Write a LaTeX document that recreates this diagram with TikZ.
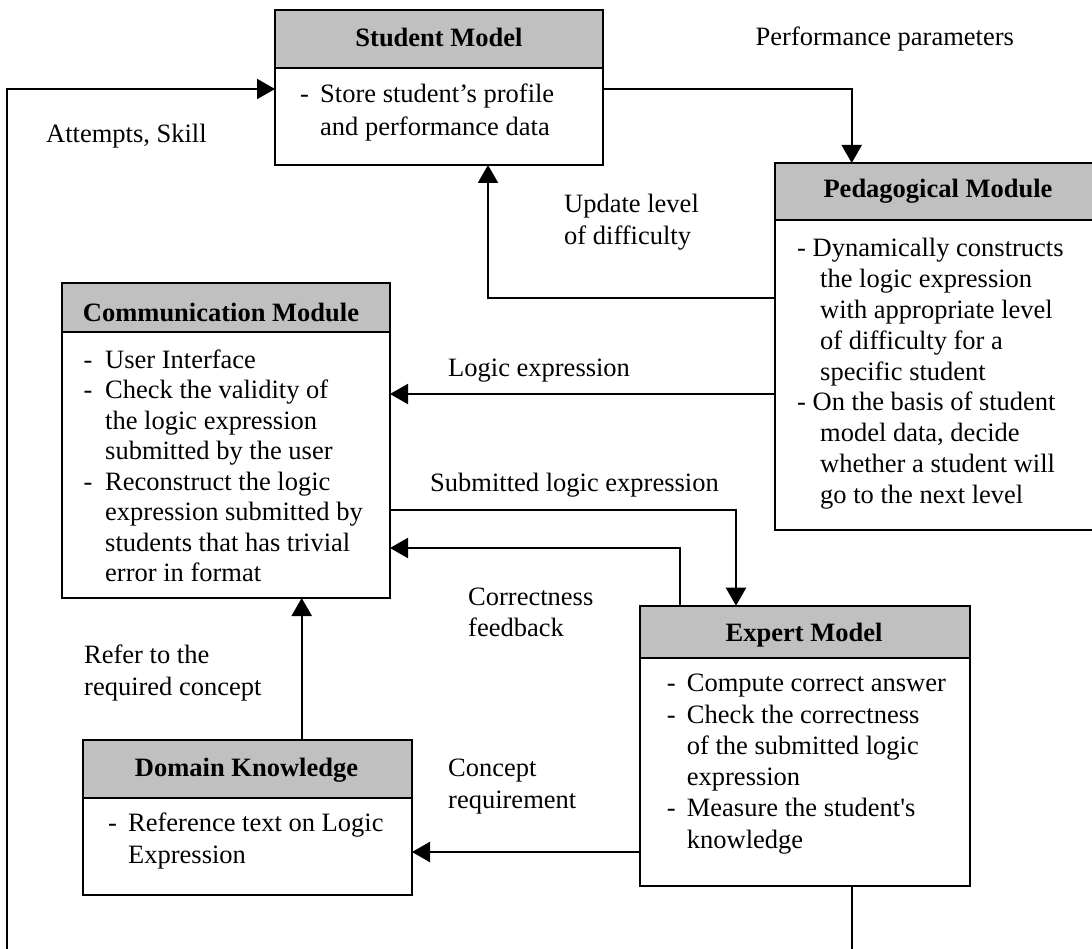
\documentclass[tikz,border=0pt]{standalone}
\usepackage{fontspec}
\setmainfont{Liberation Serif}
\usetikzlibrary{arrows.meta}
\definecolor{hdrgray}{RGB}{192,192,192}
\newcommand{\blk}[2]{\parbox[t]{330pt}{\fontsize{26.5pt}{#1}\selectfont\raggedright #2}}
\newcommand{\dsh}[1]{\makebox[#1][l]{-}}
\begin{document}
\begin{tikzpicture}[x=1pt,y=-1pt,
  box/.style={draw,line width=2.2pt,inner sep=0pt,outer sep=0pt,anchor=north west,fill=white},
  hdr/.style={draw,line width=2.2pt,inner sep=0pt,outer sep=0pt,anchor=north west,fill=hdrgray},
  ttl/.style={font=\fontsize{26.5pt}{30pt}\selectfont\bfseries,anchor=base,inner sep=0pt},
  txt/.style={font=\fontsize{26.5pt}{30.5pt}\selectfont,anchor=base west,inner sep=0pt},
  conn/.style={line width=2.2pt},
  arr/.style={conn,-{Triangle[length=18pt,width=20pt]}}]
\useasboundingbox (0,0) rectangle (1092,949);
\clip (0,0) rectangle (1092,949);

% boxes
\node[box,minimum width=328pt,minimum height=155pt] (sm) at (275,10) {};
\node[hdr,minimum width=328pt,minimum height=57.7pt] (smh) at (sm.north west) {};
\node[box,minimum width=328pt,minimum height=367pt] (pm) at (775,163) {};
\node[hdr,minimum width=328pt,minimum height=57pt] (pmh) at (pm.north west) {};
\node[box,minimum width=328.3pt,minimum height=315pt] (cm) at (61.7,283) {};
\node[hdr,minimum width=328.3pt,minimum height=48.7pt] (cmh) at (cm.north west) {};
\node[box,minimum width=330pt,minimum height=280.3pt] (em) at (640,605.7) {};
\node[hdr,minimum width=330pt,minimum height=52.3pt] (emh) at (em.north west) {};
\node[box,minimum width=328.7pt,minimum height=155pt] (dk) at (83.3,740) {};
\node[hdr,minimum width=328.7pt,minimum height=57.7pt] (dkh) at (dk.north west) {};

% titles
\node[ttl] (smt) at (439,46.7) {Student Model};
\node[ttl] (pmt) at (938,198) {Pedagogical Module};
\node[ttl] (cmt) at (221,321.7) {Communication Module};
\node[ttl] (emt) at (804,641.7) {Expert Model};
\node[ttl] (dkt) at (246.5,776) {Domain Knowledge};

% body texts
\node[txt] (smb) at (300,103) {\blk{33pt}{\dsh{20pt}Store student’s profile\\\hspace*{20pt}and performance data}};
\node[txt] (pmb) at (797,257) {\blk{30.8pt}{- Dynamically constructs\\
\hspace*{23pt}the logic expression\\
\hspace*{23pt}with appropriate level\\
\hspace*{23pt}of difficulty for a\\
\hspace*{23pt}specific student\\
- On the basis of student\\
\hspace*{23pt}model data, decide\\
\hspace*{23pt}whether a student will\\
\hspace*{23pt}go to the next level}};
\node[txt] (cmb) at (83.3,368.3) {\blk{30.5pt}{\dsh{21.7pt}User Interface\\
\dsh{21.7pt}Check the validity of\\
\hspace*{21.7pt}the logic expression\\
\hspace*{21.7pt}submitted by the user\\
\dsh{21.7pt}Reconstruct the logic\\
\hspace*{21.7pt}expression submitted by\\
\hspace*{21.7pt}students that has trivial\\
\hspace*{21.7pt}error in format}};
\node[txt] (emb) at (666.7,691.7) {\blk{31.3pt}{\dsh{20pt}Compute correct answer\\
\dsh{20pt}Check the correctness\\
\hspace*{20pt}of the submitted logic\\
\hspace*{20pt}expression\\
\dsh{20pt}Measure the student\textquotesingle s\\
\hspace*{20pt}knowledge}};
\node[txt] (dkb) at (108,831.7) {\blk{31.6pt}{\dsh{20pt}Reference text on Logic\\
\hspace*{20pt}Expression}};

% labels
\node[txt] (lpp) at (755.5,46) {Performance parameters};
\node[txt] (las) at (46,143) {Attempts, Skill};
\node[txt] (lul) at (564,213) {\blk{32pt}{Update level\\of difficulty}};
\node[txt] (lle) at (448,376.7) {Logic expression};
\node[txt] (lsl) at (430,491.7) {Submitted logic expression};
\node[txt] (lcf) at (468,605) {\blk{31.7pt}{Correctness\\feedback}};
\node[txt] (lrc) at (84,663.3) {\blk{31.7pt}{Refer to the\\required concept}};
\node[txt] (lcr) at (448,776.7) {\blk{31.6pt}{Concept\\requirement}};

% connectors
\draw[arr] (em.south -| 851.7,0) -- (851.7,1000) -| (7.3,89) -- (sm.west |- 0,89);
\draw[arr] (sm.east |- 0,89) -| (pm.north -| 851.7,0);
\draw[arr] (pm.west |- 0,298) -| (sm.south -| 488,0);
\draw[arr] (pm.west |- 0,394) -- (cm.east |- 0,394);
\draw[arr] (cm.east |- 0,510) -| (em.north -| 736,0);
\draw[arr] (em.north -| 680,0) |- (cm.east |- 0,548);
\draw[arr] (dk.north -| 301.7,0) -- (cm.south -| 301.7,0);
\draw[arr] (em.west |- 0,852) -- (dk.east |- 0,852);
\end{tikzpicture}
\end{document}
